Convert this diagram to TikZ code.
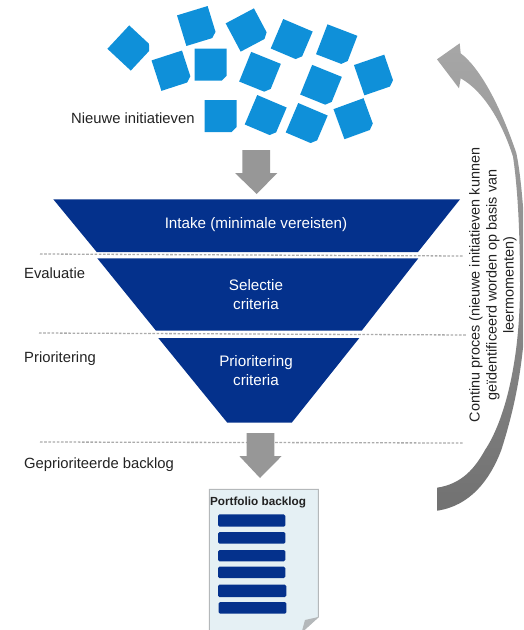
\documentclass[tikz,border=0pt]{standalone}
\usepackage{fontspec}
\setmainfont{Liberation Sans}
\definecolor{sq}{HTML}{0F90D9}
\definecolor{navy}{HTML}{04318C}
\definecolor{arrowgrey}{HTML}{979797}
\definecolor{dotgrey}{HTML}{ABABAB}
\definecolor{paper}{HTML}{E5F0F4}
\definecolor{paperedge}{HTML}{B4B8BA}
\definecolor{txt}{HTML}{222222}
\tikzset{
  x=1pt,y=-1pt,
  label/.style={font=\fontsize{14.8}{17}\selectfont,text=txt,inner sep=0pt},
  leftlabel/.style={label,anchor=west},
  inner/.style={font=\fontsize{15.2}{18.5}\selectfont,text=white,align=center,inner sep=0pt},
  funnel/.style={fill=navy},
  blockarrow/.style={fill=arrowgrey},
  divider/.style={draw=dotgrey,line width=1.3pt,dash pattern=on 2.6pt off 1.6pt},
  bar/.style={fill=navy,rounded corners=1.5pt},
}
\newcommand{\chip}[3]{\fill[sq,shift={(#1,#2)},rotate=#3] (-16,-16) -- (16,-16) -- (16,11) -- (11,16) -- (-16,16) -- cycle;}
\begin{document}
\begin{tikzpicture}
\useasboundingbox (0,0) rectangle (523,630);
\clip (0,0) rectangle (523,630);
% chips
\chip{130}{48}{47}
\chip{197}{26}{17}
\chip{247.3}{30}{28}
\chip{291.7}{40}{-23}
\chip{336.7}{45}{-21}
\chip{171.7}{70.7}{18}
\chip{210.7}{64.7}{0}
\chip{260}{72.7}{-22}
\chip{321}{85.7}{-22}
\chip{374.3}{75}{19}
\chip{220.7}{116}{0}
\chip{265.7}{116}{-23}
\chip{306.7}{124}{-23}
\chip{354}{118.7}{20}
\node[leftlabel] (nieuw) at (71,118) {Nieuwe initiatieven};
% top arrow
\fill[blockarrow] (242.3,150) -- (270,150) -- (270,173) -- (277.3,173) -- (256.7,194) -- (235,173) -- (242.3,173) -- cycle;
% funnel
\fill[funnel] (53.3,199.3) -- (460,199.3) -- (418,252) -- (96.7,252) -- cycle;
\fill[funnel] (97.3,258.3) -- (418.3,258.3) -- (361.7,330.7) -- (156,330.7) -- cycle;
\fill[funnel] (158.3,338) -- (359.3,338) -- (291.7,422.7) -- (227.3,422.7) -- cycle;
\node[inner] (intake) at (256,225) {Intake (minimale vereisten)};
\node[inner] (sel) at (256,295) {Selectie\\[0.5pt]criteria};
\node[inner] (prio) at (256,370.5) {Prioritering\\[0.5pt]criteria};
% dividers
\draw[divider] (40,254) -- (463,256);
\draw[divider] (39,333) -- (467,335);
\draw[divider] (40,442) -- (463,443);
\node[leftlabel] (eval) at (24,273) {Evaluatie};
\node[leftlabel] (prl) at (24,359) {Prioritering};
\node[leftlabel] (back) at (24,465) {Geprioriteerde backlog};
% lower arrow
\fill[blockarrow] (246.7,433) -- (274.3,433) -- (274.3,456) -- (281.7,456) -- (260,478) -- (239.3,456) -- (246.7,456) -- cycle;
% document
\path[fill=paper,draw=paperedge,line width=1pt] (209.3,489.3) -- (318.3,489.3) -- (318.3,617) -- (301.7,632) -- (209.3,632) -- cycle;
\fill[paperedge] (318.3,617) -- (305,620) -- (301.7,632) -- cycle;
\node[font=\bfseries\fontsize{11.75}{14}\selectfont,text=txt,inner sep=0pt] (pb) at (258,502.5) {Portfolio backlog};
\fill[bar] (218,514.3) rectangle (285.3,526.7);
\fill[bar] (218,532) rectangle (285.3,543.7);
\fill[bar] (218,550) rectangle (285.3,561.3);
\fill[bar] (218,566.7) rectangle (285.3,578);
\fill[bar] (218,584.7) rectangle (286.3,597);
\fill[bar] (218.7,602) rectangle (286.3,613.7);
% curved arrow
\shade[top color=arrowgrey!85!white,bottom color=arrowgrey!75!black]
  (437,59.3) -- (459.7,43.3) -- (460.7,53.3)
  .. controls (480,68) and (500,105) .. (516.3,153)
  .. controls (522,180) and (526,235) .. (526,285)
  .. controls (526,345) and (519,395) .. (501.3,450)
  .. controls (490,480) and (470,506) .. (437,510.7)
  -- (437,487.7)
  .. controls (462,484) and (475,468) .. (485,450)
  .. controls (505,420) and (520,360) .. (520,285)
  .. controls (520,235) and (518,190) .. (513,156.7)
  .. controls (503,125) and (485,92) .. (460.7,78.3)
  -- (459,88.3) -- cycle;
\node[label,rotate=90,align=center,font=\fontsize{14.4}{17}\selectfont] (cont) at (493,285) {Continu proces (nieuwe initiatieven kunnen\\geïdentificeerd worden op basis van\\leermomenten)};
\end{tikzpicture}
\end{document}
